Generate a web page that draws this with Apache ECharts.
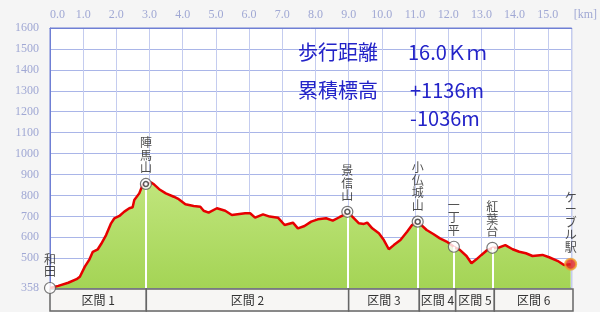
<!DOCTYPE html>
<html>
<head>
<meta charset="utf-8">
<script src="https://cdn.jsdelivr.net/npm/echarts@6/dist/echarts.min.js"></script>
<style>
html,body{margin:0;padding:0;background:#f5f5f5;}
#c{width:600px;height:312px;}
</style>
</head>
<body>
<div id="c"></div>
<script>
// profile (km, elevation m)
var distKm = [0,0.25,0.55,0.8,0.9,1.05,1.19,1.29,1.44,1.54,1.69,1.84,1.94,2.09,2.24,2.39,2.49,2.54,2.69,2.79,2.89,3.05,3.14,3.29,3.49,3.73,3.88,4.08,4.33,4.53,4.63,4.78,5.03,5.28,5.48,5.88,6.03,6.18,6.42,6.62,6.87,7.07,7.32,7.47,7.67,7.87,8.07,8.32,8.52,8.72,8.86,8.96,9.11,9.31,9.46,9.56,9.71,9.91,10.06,10.21,10.36,10.56,10.76,10.91,11.08,11.35,11.55,11.75,11.95,12.17,12.35,12.55,12.7,12.85,13.0,13.15,13.33,13.54,13.72,13.94,14.14,14.34,14.54,14.84,15.04,15.29,15.49,15.69];
var elevM = [358,368,383,400,412,460,495,531,543,568,611,667,691,702,723,739,744,778,810,850,855,862,852,830,810,794,782,758,750,746,727,718,739,727,707,715,715,694,710,699,694,659,670,643,654,675,686,691,680,696,707,722,699,667,664,670,643,619,587,543,563,587,627,659,675,635,616,595,580,555,540,511,476,495,516,536,550,552,563,543,531,524,511,516,505,488,468,472];

// waypoints
var wpNames = ['和田','陣馬山','景信山','小仏城山','一丁平','紅葉台','ケーブル駅'];
var wpKm = [0,2.89,8.96,11.08,12.17,13.33,15.69];
var wpElev = [358,855,722,675,555,550,472];
var wpPeak = [false,true,true,true,false,false,false];

// sections
var segNames = ['区間 1','区間 2','区間 3','区間 4','区間 5','区間 6'];
var segStart = [0,2.89,8.96,11.08,12.17,13.33];
var segEnd = [2.89,8.96,11.08,12.17,13.33,15.69];

// axis ticks
var yLabelVals = [358,500,600,700,800,900,1000,1100,1200,1300,1400,1500,1600];
var yGridVals = [500,600,700,800,900,1000,1100,1200,1300,1400,1500,1600];
var xMax = 15.72;

// summary texts
var sumLabels = ['歩行距離','累積標高'];
var sumValues = ['16.0Ｋｍ','+1136m','-1036m'];

var chart = echarts.init(document.getElementById('c'));
var profile = distKm.map(function(d,i){return [d, elevM[i]];});
var wpData = wpNames.map(function(n,i){
  var it = {value:[wpKm[i], wpElev[i]], name:n};
  if (i === wpNames.length-1) it.itemStyle = {color:'#e02020', borderColor:'#f0a030', borderWidth:2};
  return it;
});
var peakData = [];
wpNames.forEach(function(n,i){ if (wpPeak[i]) peakData.push([wpKm[i], wpElev[i]]); });
var vLines = [];
for (var i=1;i<wpNames.length-1;i++){
  vLines.push([{coord:[wpKm[i], wpElev[i]]},{coord:[wpKm[i], 358]}]);
}
var segData = segStart.map(function(s,i){return [s, segEnd[i]];});

var blue = '#2323c8';
var cjk = '"Noto Sans CJK JP", sans-serif';

chart.setOption({
  animation:false,
  backgroundColor:'#f5f5f5',
  grid:[
    {left:50,right:24,top:28,bottom:24,show:true,backgroundColor:'#ffffff',borderColor:'#6f7fd4',borderWidth:1},
    {left:50,right:26,top:289,height:22}
  ],
  xAxis:[
    {type:'value',gridIndex:0,position:'top',min:0,max:xMax,interval:1,
     axisLine:{show:true,lineStyle:{color:'#6f7fd4'}},axisTick:{show:false},
     axisLabel:{color:'#a0a8d4',fontFamily:'Liberation Serif',fontSize:12,margin:7,
       showMaxLabel:false,alignMinLabel:'left',formatter:function(v){return v.toFixed(1);}},
     splitLine:{show:true,lineStyle:{color:'#c4ccef',width:1}},
     name:'[km]',nameLocation:'end',nameGap:2,
     nameTextStyle:{color:'#a0a8d4',fontFamily:'Liberation Serif',fontSize:12,align:'left',verticalAlign:'bottom',padding:[0,0,7,0]}
    },
    {type:'value',gridIndex:1,min:0,max:xMax,show:false}
  ],
  yAxis:[
    {type:'value',gridIndex:0,min:358,max:1600,
     axisLine:{show:true,lineStyle:{color:'#6f7fd4'}},
     axisTick:{show:false,customValues:yGridVals},
     axisLabel:{color:'#a0a8d4',fontFamily:'Liberation Serif',fontSize:12,margin:11,customValues:yLabelVals,
       formatter:function(v){return String(v);}},
     splitLine:{show:true,lineStyle:{color:'#a9b5e8',width:1}}
    },
    {type:'value',gridIndex:1,min:0,max:1,show:false}
  ],
  graphic:[
    {type:'text',z:100,left:298,top:42,style:{text:sumLabels[0],fill:blue,font:'20px '+cjk}},
    {type:'text',z:100,left:408,top:42,style:{text:sumValues[0],fill:blue,font:'20px '+cjk}},
    {type:'text',z:100,left:298,top:80,style:{text:sumLabels[1],fill:blue,font:'20px '+cjk}},
    {type:'text',z:100,left:410,top:80,style:{text:sumValues[1],fill:blue,font:'20px '+cjk}},
    {type:'text',z:100,left:410,top:108,style:{text:sumValues[2],fill:blue,font:'20px '+cjk}}
  ],
  series:[
    {type:'line',xAxisIndex:0,yAxisIndex:0,data:profile,symbol:'none',z:2,
     lineStyle:{color:'#e60000',width:2.5},
     areaStyle:{opacity:1,color:new echarts.graphic.LinearGradient(0,0,0,1,[{offset:0,color:'#c0e57c'},{offset:1,color:'#a4d455'}])}
    },
    {type:'line',xAxisIndex:0,yAxisIndex:0,data:[],z:3,
     markLine:{silent:true,symbol:['none','none'],animation:false,label:{show:false},
       lineStyle:{color:'#ffffff',width:2,type:'solid'},data:vLines}
    },
    {type:'scatter',xAxisIndex:0,yAxisIndex:0,data:wpData,z:5,symbolSize:11,
     itemStyle:{color:'#ffffff',borderColor:'#555555',borderWidth:1.2},
     label:{show:true,position:'top',distance:4,color:'#222',fontSize:12,lineHeight:12.5,fontFamily:cjk,
       formatter:function(p){return p.name.split('').join('\n');}}
    },
    {type:'scatter',xAxisIndex:0,yAxisIndex:0,data:peakData,z:6,symbolSize:5,silent:true,
     itemStyle:{color:'#ffffff',borderColor:'#333333',borderWidth:1.5}
    },
    {type:'custom',xAxisIndex:1,yAxisIndex:1,data:segData,encode:{x:[0,1]},z:2,
     renderItem:function(params,api){
       var s = api.coord([api.value(0),1]);
       var e = api.coord([api.value(1),0]);
       return {type:'group',children:[
         {type:'rect',shape:{x:s[0],y:s[1],width:e[0]-s[0],height:e[1]-s[1]},
          style:{fill:'#f7f6f4',stroke:'#666666',lineWidth:1.5}},
         {type:'text',style:{text:segNames[params.dataIndex],x:(s[0]+e[0])/2,y:(s[1]+e[1])/2,
          align:'center',verticalAlign:'middle',fill:'#333333',font:'12px '+cjk}}
       ]};
     }
    }
  ]
});
</script>
</body>
</html>
